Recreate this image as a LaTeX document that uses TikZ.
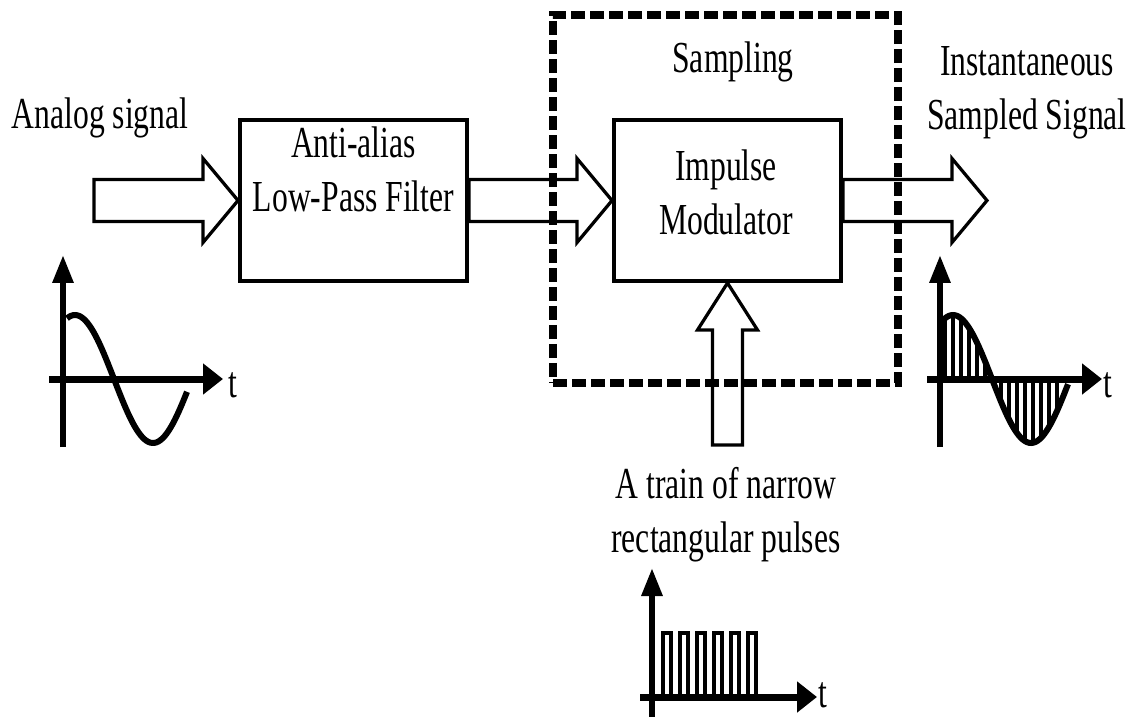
\documentclass[tikz,border=0pt]{standalone}
\usepackage{fontspec}
\setmainfont{Liberation Serif}
\usepackage{graphicx}
\usepackage{tikz}
\usetikzlibrary{arrows.meta,calc}

% text in the figure is stretched upwards
\newcommand{\tall}[1]{\scalebox{1}[1.4]{#1}}
\newcommand{\twoline}[2]{\tall{\begin{tabular}[t]{@{}c@{}}#1\\#2\end{tabular}}}

% hollow block arrow from #1 (tail) to #2 (tip), horizontal
\newcommand{\fatarrow}[2]{%
  \draw[hollow] ($(#1)+(0,-21)$) -- ($(#2)+(-35,-21)$) -- ($(#2)+(-35,-42)$) -- (#2)
    -- ($(#2)+(-35,42)$) -- ($(#2)+(-35,21)$) -- ($(#1)+(0,21)$) -- cycle;}

\tikzset{
  txt/.style={font=\fontsize{18}{22}\selectfont, inner sep=0pt, anchor=base},
  block/.style={draw, line width=0.08cm, minimum width=4.54cm, minimum height=3.22cm, inner sep=0pt},
  dashbox/.style={draw, line width=0.16cm, dash pattern=on 0.28cm off 0.1cm, minimum width=6.9cm, minimum height=7.36cm, inner sep=0pt},
  hollow/.style={draw, line width=0.065cm, line join=miter},
  vaxis/.style={line width=0.12cm, -{Triangle[length=0.56cm,width=0.4cm]}},
  haxis/.style={line width=0.14cm, -{Triangle[length=0.4cm,width=0.6cm]}},
  wave/.style={line width=0.12cm},
  pulse/.style={line width=0.07cm}
}

\begin{document}
\begin{tikzpicture}[x=0.02cm,y=-0.02cm]
    \useasboundingbox (0,0) rectangle (1137,717);

    % Blocks
    \node[block] (lpf) at (353.5,200.5) {};
    \node[block] (mod) at (727.5,200.5) {};
    \node[dashbox] (sampblk) at (725.5,199) {};

    % Labels
    \node[txt] (analoglbl) at (100,128) {\tall{Analog signal}};
    \node[txt] (lpflbl) at (353.5,157) {\twoline{Anti-alias}{Low-Pass Filter}};
    \node[txt] (samplbl) at (733,72) {\tall{Sampling}};
    \node[txt] (modlbl) at (726,180) {\twoline{Impulse}{Modulator}};
    \node[txt] (outlbl) at (1027,75) {\twoline{Instantaneous}{Sampled Signal}};
    \node[txt] (pulselbl) at (726,498) {\twoline{A train of narrow}{rectangular pulses}};

    % Block arrows
    \coordinate (analogin) at (94,200.5);
    \coordinate (sampout) at (987,200.5);
    \coordinate (pulsein) at (727.5,445);
    \fatarrow{analogin}{lpf.west}
    \fatarrow{lpf.east}{mod.west}
    \fatarrow{mod.east}{sampout}
    \draw[hollow] ($(pulsein)+(-15,0)$) -- ($(mod.south)+(-15,47)$) -- ($(mod.south)+(-30,47)$) -- (mod.south)
        -- ($(mod.south)+(30,47)$) -- ($(mod.south)+(15,47)$) -- ($(pulsein)+(15,0)$) -- cycle;

    % Analog signal plot
    \draw[vaxis] (63,447) -- (63,255);
    \draw[haxis] (49,379) -- (223,379);
    \draw[wave] plot[domain=67:187, samples=60] (\x,{379-64*cos((\x-75)/156*360)});
    \node[txt, anchor=base west] (t1) at (228,397) {\tall{t}};

    % Sampled signal plot
    \draw[vaxis] (940,447) -- (940,255);
    \draw[haxis] (927,379) -- (1102,379);
    \begin{scope}
        \clip plot[domain=940:1068, samples=60] (\x,{379-64*cos((\x-953)/156*360)}) -- (1068,379) -- (940,379) -- cycle;
        \foreach \c in {949,965,981,1005,1021,1037,1053}
            \draw[pulse] (\c-4,300) rectangle (\c+4,460);
    \end{scope}
    \draw[wave] plot[domain=940:1068, samples=60] (\x,{379-64*cos((\x-953)/156*360)});
    \node[txt, anchor=base west] (t2) at (1103,397) {\tall{t}};

    % Pulse train plot
    \draw[vaxis] (652,717) -- (652,568);
    \draw[haxis] (640,697) -- (817,697);
    \foreach \x in {663,680,697,714,731,748}
        \draw[pulse] (\x,697) rectangle ++(8,-64);
    \node[txt, anchor=base west] (t3) at (818,707) {\tall{t}};
\end{tikzpicture}
\end{document}
